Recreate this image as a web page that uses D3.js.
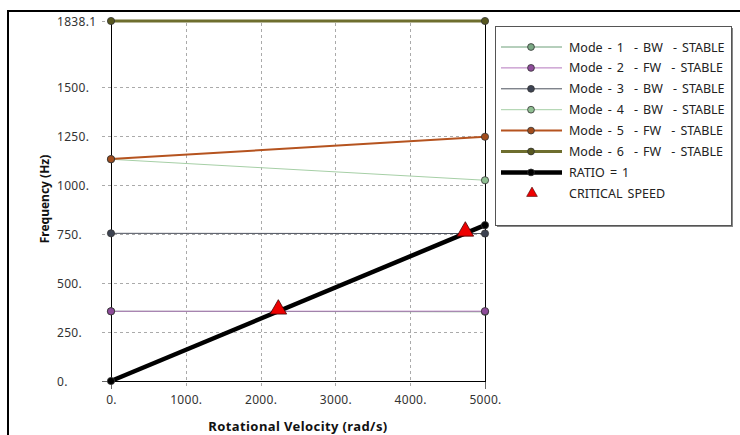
<!DOCTYPE html>
<html><head><meta charset="utf-8">
<script src="https://cdn.jsdelivr.net/npm/d3@7"></script>
<style>
html,body{margin:0;padding:0;background:#fff;}
svg{display:block;font-family:"Noto Sans","Open Sans",sans-serif;}
</style></head>
<body><svg id="chart" width="740" height="435"></svg>
<script>
// ---- data ----
const speeds = [0, 5000];
const mode1 = [356, 353.5];
const mode2 = [356, 356.5];
const mode3 = [754, 753];
const mode4 = [1132, 1025];
const mode5 = [1133, 1247];
const mode6 = [1838.1, 1838.1];
const ratio = [0, 795.8];
const criticalSpeeds = [2237, 4737];
const criticalFreqs = [356, 754];
const seriesNames = ["Mode - 1  - BW  - STABLE","Mode - 2  - FW  - STABLE","Mode - 3  - BW  - STABLE","Mode - 4  - BW  - STABLE","Mode - 5  - FW  - STABLE","Mode - 6  - FW  - STABLE","RATIO = 1"];
const criticalName = "CRITICAL SPEED";
const xTicks = [0, 1000, 2000, 3000, 4000, 5000];
const xTickLabels = ["0.", "1000.", "2000.", "3000.", "4000.", "5000."];
const yTicks = [0, 250, 500, 750, 1000, 1250, 1500, 1838.1];
const yTickLabels = ["0.", "250.", "500.", "750.", "1000.", "1250.", "1500.", "1838.1"];
const xTitle = "Rotational Velocity (rad/s)";
const yTitle = "Frequency (Hz)";

// ---- styles ----
const styles = [
  {line:"#6d9f78", fill:"#7aa884", w:1},
  {line:"#b477bd", fill:"#8e4c9a", w:1},
  {line:"#4b505c", fill:"#3d4352", w:1},
  {line:"#a6cfa6", fill:"#8fbf92", w:1},
  {line:"#b5531f", fill:"#a24d1d", w:2},
  {line:"#6e6e2e", fill:"#585820", w:3},
  {line:"#000000", fill:"#000000", w:4.5}
];
const allSeries = [mode1, mode2, mode3, mode4, mode5, mode6, ratio];

const svg = d3.select("#chart");
const x = d3.scaleLinear().domain([0, 5000]).range([111, 485]);
const y = d3.scaleLinear().domain([0, 1838.1]).range([381, 21]);

// outer frame (top and left edges)
svg.append("line").attr("x1",7).attr("x2",740).attr("y1",11).attr("y2",11).attr("stroke","#000").attr("stroke-width",2);
svg.append("line").attr("x1",8).attr("x2",8).attr("y1",10).attr("y2",435).attr("stroke","#000").attr("stroke-width",2);

// grid
const g = svg.append("g");
g.selectAll(".hg").data(yTicks.filter(d=>d>0)).enter().append("line")
  .attr("x1",102).attr("x2",x(5000)).attr("y1",d=>Math.round(y(d))+0.5).attr("y2",d=>Math.round(y(d))+0.5)
  .attr("stroke","#aaa").attr("stroke-dasharray","3,3");
g.selectAll(".vg").data(xTicks.filter(d=>d>0 && d<5000)).enter().append("line")
  .attr("x1",d=>Math.round(x(d))+0.5).attr("x2",d=>Math.round(x(d))+0.5).attr("y1",23).attr("y2",389)
  .attr("stroke","#aaa").attr("stroke-dasharray","3,3");
// ticks outward for 0 and 5000
g.append("line").attr("x1",102).attr("x2",111).attr("y1",381.5).attr("y2",381.5).attr("stroke","#666");
g.append("line").attr("x1",111.5).attr("x2",111.5).attr("y1",381).attr("y2",389).attr("stroke","#666");
g.append("line").attr("x1",485.5).attr("x2",485.5).attr("y1",381).attr("y2",389).attr("stroke","#666");

// axis frame
g.append("line").attr("x1",111.5).attr("x2",111.5).attr("y1",21).attr("y2",381.5).attr("stroke","#000");
g.append("line").attr("x1",485.5).attr("x2",485.5).attr("y1",21).attr("y2",381.5).attr("stroke","#000");
g.append("line").attr("x1",111).attr("x2",486).attr("y1",381.5).attr("y2",381.5).attr("stroke","#000");

// axes labels via d3 axes
const yAxis = d3.axisLeft(y).tickValues(yTicks).tickSize(0)
  .tickFormat((d,i)=>yTickLabels[i]);
const ya = svg.append("g").attr("transform","translate(111,0)").call(yAxis);
ya.select(".domain").remove();
ya.selectAll("text").attr("text-anchor","start").attr("x",-54).attr("dy","0.35em")
  .attr("font-size",12).attr("letter-spacing",0.3).attr("fill","#333").attr("font-family","'Noto Sans',sans-serif");

const xAxis = d3.axisBottom(x).tickValues(xTicks).tickSize(0)
  .tickFormat((d,i)=>xTickLabels[i]);
const xa = svg.append("g").attr("transform","translate(0,381)").call(xAxis);
xa.select(".domain").remove();
xa.selectAll("text").attr("y",14).attr("dy","0.71em").attr("font-size",12).attr("letter-spacing",0.3).attr("fill","#333")
  .attr("font-family","'Noto Sans',sans-serif");

// titles
svg.append("text").attr("x",298).attr("y",431).attr("text-anchor","middle")
  .attr("font-size",13).attr("letter-spacing",0.4).attr("font-weight","bold").attr("fill","#111").text(xTitle);
svg.append("text").attr("transform","translate(49,199) rotate(-90)").attr("text-anchor","middle")
  .attr("font-size",12).attr("font-weight","bold").attr("fill","#111").text(yTitle);

// series
const line = d3.line().x((d,i)=>x(speeds[i])).y(d=>y(d));
const sg = svg.append("g");
allSeries.forEach((s,k)=>{
  const st = styles[k];
  sg.append("path").datum(s).attr("d",line).attr("fill","none")
    .attr("stroke",st.line).attr("stroke-width",st.w);
});
allSeries.forEach((s,k)=>{
  const st = styles[k];
  sg.selectAll(null).data(s).enter().append("circle")
    .attr("cx",(d,i)=>x(speeds[i])).attr("cy",d=>y(d)).attr("r",3.6)
    .attr("fill",st.fill).attr("stroke","#333").attr("stroke-width",0.8);
});
// critical speed markers
const tri = d3.symbol().type(d3.symbolTriangle).size(120);
sg.selectAll(".crit").data(criticalSpeeds).enter().append("path")
  .attr("d",tri).attr("transform",(d,i)=>`translate(${x(d)},${y(criticalFreqs[i])-2})`)
  .attr("fill","#ee0000").attr("stroke","#400").attr("stroke-width",0.8);

// legend
const lg = svg.append("g");
lg.append("rect").attr("x",497).attr("y",28).attr("width",236).attr("height",199).attr("fill","#888");
lg.append("rect").attr("x",495.5).attr("y",26.5).attr("width",236).attr("height",199).attr("fill","#fff").attr("stroke","#555");
seriesNames.forEach((name,k)=>{
  const st = styles[k];
  const yy = 47 + k*20.9;
  lg.append("line").attr("x1",501).attr("x2",562).attr("y1",yy).attr("y2",yy)
    .attr("stroke",st.line).attr("stroke-width",st.w);
  lg.append("circle").attr("cx",531).attr("cy",yy).attr("r",3.4)
    .attr("fill",st.fill).attr("stroke","#333").attr("stroke-width",0.8);
  lg.append("text").attr("x",569).attr("y",yy).attr("dy","0.36em").attr("font-size",12.5)
    .attr("word-spacing",1.8).attr("fill","#222").style("white-space","pre").attr("xml:space","preserve").text(name);
});
const cy = 47 + 7*20.9;
lg.append("path").attr("d",d3.symbol().type(d3.symbolTriangle).size(50))
  .attr("transform",`translate(532,${cy})`).attr("fill","#ee0000").attr("stroke","#400").attr("stroke-width",0.6);
lg.append("text").attr("x",569).attr("y",cy).attr("dy","0.36em").attr("font-size",12.5).attr("word-spacing",1.8)
  .attr("fill","#222").text(criticalName);
</script></body></html>
